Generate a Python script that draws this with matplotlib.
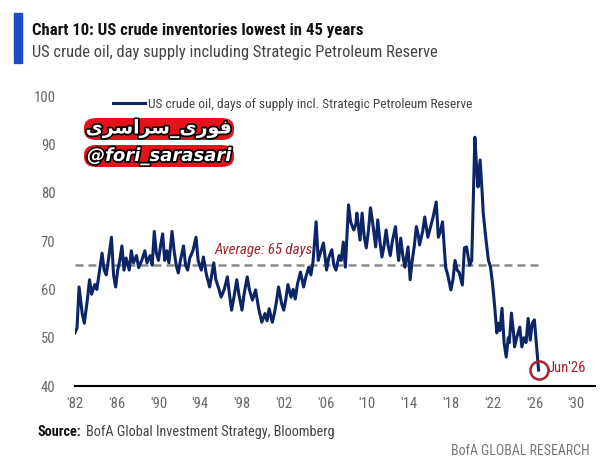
import matplotlib
matplotlib.use('Agg')
import matplotlib.pyplot as plt
import matplotlib.patheffects as pe
from matplotlib.patches import FancyBboxPatch, Rectangle

# decimal year, days of supply
years = [1982.0, 1982.2, 1982.4, 1982.7, 1982.9, 1983.2, 1983.4, 1983.6, 1983.9, 1984.1,
         1984.3, 1984.6, 1984.8, 1985.0, 1985.2, 1985.5, 1985.7, 1985.9, 1986.1, 1986.3,
         1986.5, 1986.7, 1986.9, 1987.2, 1987.4, 1987.6, 1987.9, 1988.1, 1988.4, 1988.7,
         1988.9, 1989.2, 1989.4, 1989.6, 1989.8, 1990.0, 1990.2, 1990.4, 1990.6, 1990.8,
         1991.0, 1991.3, 1991.5, 1991.7, 1991.9, 1992.1, 1992.4, 1992.6, 1992.8, 1993.0,
         1993.3, 1993.6, 1993.8, 1994.1, 1994.3, 1994.6, 1994.9, 1995.1, 1995.3, 1995.5,
         1995.8, 1996.0, 1996.3, 1996.6, 1996.8, 1997.0, 1997.2, 1997.5, 1997.7, 1998.0,
         1998.2, 1998.5, 1998.7, 1999.0, 1999.3, 1999.6, 1999.9, 2000.2, 2000.4, 2000.6,
         2000.9, 2001.1, 2001.3, 2001.5, 2001.8, 2002.0, 2002.2, 2002.4, 2002.7, 2002.9,
         2003.1, 2003.3, 2003.6, 2003.9, 2004.1, 2004.4, 2004.6, 2004.8, 2005.1, 2005.3,
         2005.5, 2005.8, 2006.1, 2006.3, 2006.6, 2006.8, 2007.0, 2007.3, 2007.5, 2007.7,
         2007.9, 2008.2, 2008.4, 2008.7, 2008.9, 2009.0, 2009.2, 2009.3, 2009.5, 2009.7,
         2009.9, 2010.1, 2010.3, 2010.5, 2010.8, 2011.0, 2011.2, 2011.4, 2011.6, 2011.8,
         2012.0, 2012.2, 2012.4, 2012.7, 2012.9, 2013.0, 2013.2, 2013.4, 2013.6, 2013.9,
         2014.1, 2014.3, 2014.5, 2014.7, 2014.9, 2015.0, 2015.3, 2015.5, 2015.8, 2016.0,
         2016.3, 2016.6, 2016.8, 2017.0, 2017.2, 2017.5, 2017.7, 2018.0, 2018.2, 2018.4,
         2018.6, 2018.8, 2019.1, 2019.3, 2019.5, 2019.8, 2020.0, 2020.3, 2020.5, 2020.6,
         2020.8, 2021.0, 2021.1, 2021.4, 2021.6, 2021.8, 2022.0, 2022.2, 2022.4, 2022.5,
         2022.7, 2022.9, 2023.1, 2023.3, 2023.5, 2023.6, 2023.8, 2024.0, 2024.1, 2024.3,
         2024.6, 2024.8, 2025.0, 2025.2, 2025.4, 2025.6, 2025.8, 2026.0, 2026.4]
days = [51.0, 52.0, 60.5, 55.0, 53.0, 58.0, 62.0, 59.0, 61.0, 60.0,
        63.0, 67.5, 64.0, 63.0, 66.0, 70.8, 63.0, 60.5, 64.0, 66.0,
        69.0, 64.0, 66.5, 64.0, 68.0, 65.5, 67.0, 64.5, 66.0, 68.0,
        65.5, 67.0, 65.0, 72.0, 67.5, 66.0, 69.0, 71.5, 66.0, 68.0,
        65.5, 72.0, 68.0, 65.0, 63.4, 66.0, 69.0, 65.0, 64.0, 66.5,
        68.0, 70.8, 66.0, 64.0, 66.7, 63.0, 60.5, 63.0, 65.5, 62.0,
        60.0, 58.4, 60.0, 62.6, 59.0, 55.7, 58.0, 62.0, 59.0, 55.7,
        59.0, 62.6, 60.0, 57.8, 59.9, 56.0, 53.2, 55.0, 53.5, 56.0,
        53.2, 55.0, 57.5, 60.5, 57.0, 55.7, 58.0, 61.0, 58.4, 60.0,
        58.0, 61.0, 63.6, 60.5, 62.5, 64.6, 63.0, 65.7, 74.0, 66.0,
        67.5, 69.6, 64.0, 66.5, 68.2, 65.0, 64.0, 67.0, 66.0, 69.8,
        64.6, 77.5, 74.0, 72.3, 73.5, 75.8, 72.0, 70.2, 75.8, 71.0,
        68.6, 72.0, 76.9, 74.0, 68.8, 74.4, 70.0, 66.7, 69.0, 72.3,
        69.0, 67.0, 70.0, 73.0, 68.0, 66.0, 70.6, 67.0, 64.6, 68.8,
        62.0, 66.0, 69.0, 73.0, 71.0, 69.2, 72.0, 75.0, 70.8, 72.5,
        75.0, 78.1, 70.8, 72.0, 74.0, 64.6, 63.0, 59.9, 62.0, 66.0,
        64.0, 63.5, 60.9, 68.6, 68.8, 65.0, 66.0, 91.5, 84.0, 81.2,
        86.8, 80.0, 75.8, 69.6, 66.0, 64.6, 61.0, 56.4, 51.0, 53.0,
        51.5, 56.1, 48.9, 46.0, 50.0, 49.0, 55.1, 51.0, 48.1, 50.0,
        52.2, 48.1, 50.0, 49.0, 54.0, 49.5, 53.0, 53.7, 43.3]
avg_days = 65
tick_years = list(range(1982, 2031, 4))
tick_labels = ["'%02d" % (y % 100) for y in tick_years]
y_ticks = [40, 50, 60, 70, 80, 90, 100]

NAVY = '#0b2566'
RED = '#a3242e'
plt.rcParams['font.family'] = ['Roboto Condensed', 'Liberation Sans Narrow', 'Roboto', 'DejaVu Sans']
plt.rcParams['font.stretch'] = 'condensed'

fig = plt.figure(figsize=(6.14, 4.76), dpi=100)
ax = fig.add_axes([0.122, 0.189, 0.847, 0.609])
ax.plot(years, days, color=NAVY, lw=2.2, zorder=3,
        label='US crude oil, days of supply incl. Strategic Petroleum Reserve')
ax.plot([years[0], years[-1]], [avg_days, avg_days], color='#8a8a8a', lw=1.8,
        ls=(0, (3.2, 2)), zorder=2)
ax.text(1995.4, 67.4, 'Average: 65 days', color=RED, style='italic', fontsize=10.8)
ax.plot([years[-1]], [days[-1]], 'o', ms=13, mfc='none', mec=RED, mew=1.8, zorder=4)
ax.text(years[-1] + 0.9, days[-1] + 0.4, "Jun'26", color=RED, fontsize=10.5, va='center')

ax.set_xlim(1982, 2031.8)
ax.set_ylim(40, 100)
ax.set_yticks(y_ticks)
ax.set_xticks(tick_years)
ax.set_xticklabels(tick_labels)
ax.tick_params(length=0, labelsize=10.5, colors='#666666')
ax.tick_params(axis='y', pad=14)
ax.tick_params(axis='x', pad=8)
for s in ['top', 'right', 'left']:
    ax.spines[s].set_visible(False)
ax.spines['bottom'].set_linewidth(1.5)
ax.spines['bottom'].set_color('black')

leg = ax.legend(loc='upper left', bbox_to_anchor=(0.05, 1.035), frameon=False,
                fontsize=9.6, handlelength=2.4, handletextpad=0.2)
for t in leg.get_texts():
    t.set_color('#444444')

# header
fig.add_artist(Rectangle((14 / 614, 1 - 63 / 476), 8 / 614, 50 / 476,
                         transform=fig.transFigure, color='#1b4cc2'))
fig.text(32 / 614, 1 - 30 / 476, 'Chart 10: US crude inventories lowest in 45 years',
         fontsize=12.1, fontweight='bold', va='center', color='#111111')
fig.text(32 / 614, 1 - 52 / 476, 'US crude oil, day supply including Strategic Petroleum Reserve',
         fontsize=11.9, va='center', color='#444444')

# footer
src = fig.text(38 / 614, 1 - 432 / 476, 'Source:', fontsize=10.3, fontweight='bold',
               va='center', color='#111111')
ax.annotate('BofA Global Investment Strategy, Bloomberg', xy=(1, 0.5), xycoords=src,
            xytext=(3, 0), textcoords='offset points',
            fontsize=10.3, va='center', color='#444444', annotation_clip=False)
fig.text(590 / 614, 1 - 451 / 476, 'BofA GLOBAL RESEARCH', fontsize=10, ha='right',
         va='center', color='#777777')

# watermark
stroke = [pe.withStroke(linewidth=2.5, foreground='black')]
for y0, txt, wt, st, fs in [(118, '\ufbfc\ufeae\ufeb3\ufe8d\ufeae\ufeb3_\ufbfc\ufead\ufeee\ufed3',
                             'bold', 'normal', 13.6),
                            (145, '@fori_sarasari', 'bold', 'italic', 13)]:
    fig.add_artist(FancyBboxPatch((84 / 614, 1 - (y0 + 22) / 476), 150 / 614, 22 / 476,
                                  boxstyle='round,pad=0,rounding_size=0.02',
                                  transform=fig.transFigure, fc='#e3121b', ec='none'))
    fig.text(159 / 614, 1 - (y0 + 11) / 476, txt, ha='center', va='center',
             fontsize=fs, fontweight=wt, style=st,
             color='white', family=['DejaVu Sans'], fontstretch='normal',
             path_effects=stroke)

fig.savefig('out.png', dpi=100)
